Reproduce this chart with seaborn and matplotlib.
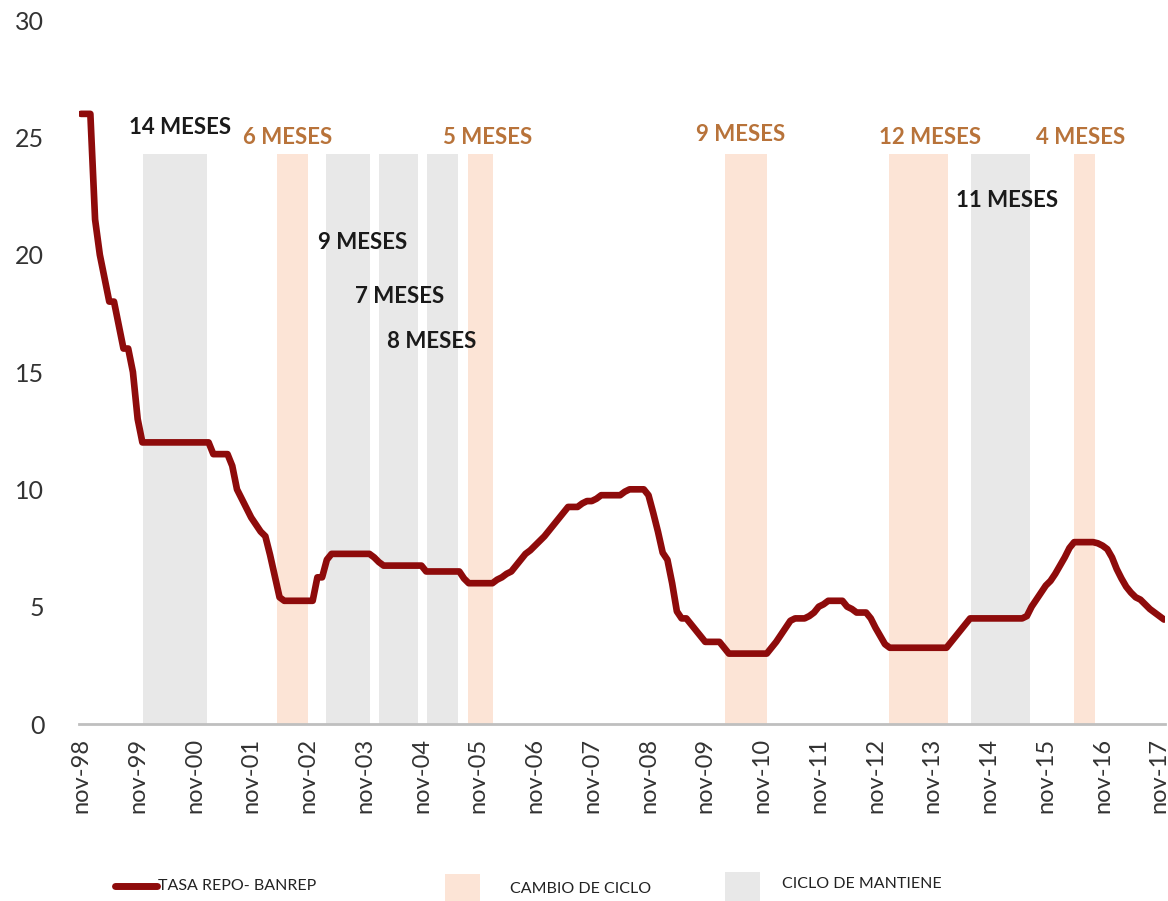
import matplotlib.pyplot as plt
import matplotlib.lines as mlines
import matplotlib.patches as mpatches
import numpy as np
import pandas as pd
import seaborn as sns

sns.set_theme(style="white")
plt.rcParams["font.family"] = ["Lato", "DejaVu Sans"]

# Tasa repo Banrep, mensual desde nov-98
tasa_1998 = [26, 26]
tasa_1999 = [26, 21.5, 20, 19, 18, 18, 17, 16, 16, 15, 13, 12]
tasa_2000 = [12, 12, 12, 12, 12, 12, 12, 12, 12, 12, 12, 12]
tasa_2001 = [12, 12, 11.5, 11.5, 11.5, 11.5, 11.0, 10.0, 9.6, 9.2, 8.8, 8.5]
tasa_2002 = [8.2, 8.0, 7.2, 6.3, 5.4, 5.25, 5.25, 5.25, 5.25, 5.25, 5.25, 5.25]
tasa_2003 = [6.25, 6.25, 7.0, 7.25, 7.25, 7.25, 7.25, 7.25, 7.25, 7.25, 7.25, 7.25]
tasa_2004 = [7.1, 6.9, 6.75, 6.75, 6.75, 6.75, 6.75, 6.75, 6.75, 6.75, 6.75, 6.5]
tasa_2005 = [6.5, 6.5, 6.5, 6.5, 6.5, 6.5, 6.5, 6.2, 6.0, 6.0, 6.0, 6.0]
tasa_2006 = [6.0, 6.0, 6.15, 6.25, 6.4, 6.5, 6.75, 7.0, 7.25, 7.4, 7.6, 7.8]
tasa_2007 = [8.0, 8.25, 8.5, 8.75, 9.0, 9.25, 9.25, 9.25, 9.4, 9.5, 9.5, 9.6]
tasa_2008 = [9.75, 9.75, 9.75, 9.75, 9.75, 9.9, 10, 10, 10, 10, 9.75, 9.0]
tasa_2009 = [8.2, 7.3, 7.0, 6.0, 4.8, 4.5, 4.5, 4.25, 4.0, 3.75, 3.5, 3.5]
tasa_2010 = [3.5, 3.5, 3.25, 3.0, 3.0, 3.0, 3.0, 3.0, 3.0, 3.0, 3.0, 3.0]
tasa_2011 = [3.25, 3.5, 3.8, 4.1, 4.4, 4.5, 4.5, 4.5, 4.6, 4.75, 5.0, 5.1]
tasa_2012 = [5.25, 5.25, 5.25, 5.25, 5.0, 4.9, 4.75, 4.75, 4.75, 4.5, 4.1, 3.75]
tasa_2013 = [3.4, 3.25, 3.25, 3.25, 3.25, 3.25, 3.25, 3.25, 3.25, 3.25, 3.25, 3.25]
tasa_2014 = [3.25, 3.25, 3.5, 3.75, 4.0, 4.25, 4.5, 4.5, 4.5, 4.5, 4.5, 4.5]
tasa_2015 = [4.5, 4.5, 4.5, 4.5, 4.5, 4.5, 4.6, 5.0, 5.3, 5.6, 5.9, 6.1]
tasa_2016 = [6.4, 6.75, 7.1, 7.5, 7.75, 7.75, 7.75, 7.75, 7.75, 7.7, 7.6, 7.45]
tasa_2017 = [7.1, 6.6, 6.2, 5.85, 5.6, 5.4, 5.3, 5.1, 4.9, 4.75, 4.6, 4.45]

etiquetas_x = ["nov-98", "nov-99", "nov-00", "nov-01", "nov-02", "nov-03", "nov-04",
               "nov-05", "nov-06", "nov-07", "nov-08", "nov-09", "nov-10", "nov-11",
               "nov-12", "nov-13", "nov-14", "nov-15", "nov-16", "nov-17"]

# Periodos sombreados (en meses desde nov-98)
banda_inicio = [13.1, 41.4, 51.8, 63.0, 73.2, 81.8, 136.2, 170.8, 188.2, 209.9]
banda_fin = [26.6, 48.0, 61.1, 71.2, 79.7, 87.1, 145.0, 183.3, 200.6, 214.4]
banda_tipo = ["mantiene", "cambio", "mantiene", "mantiene", "mantiene", "cambio",
              "cambio", "cambio", "mantiene", "cambio"]

# Etiquetas de duracion
textos = ["14 MESES", "6 MESES", "5 MESES", "9 MESES", "7 MESES", "8 MESES",
          "9 MESES", "12 MESES", "4 MESES", "11 MESES"]
textos_tipo = ["mantiene", "cambio", "cambio", "mantiene", "mantiene", "mantiene",
               "cambio", "cambio", "cambio", "mantiene"]
textos_x = [20.9, 43.8, 86.0, 59.6, 67.4, 74.2, 139.5, 179.5, 211.4, 195.8]
textos_y = [25.4, 25.0, 25.0, 20.5, 18.2, 16.3, 25.1, 25.0, 25.0, 22.3]

tasa = (tasa_1998 + tasa_1999 + tasa_2000 + tasa_2001 + tasa_2002 + tasa_2003
        + tasa_2004 + tasa_2005 + tasa_2006 + tasa_2007 + tasa_2008 + tasa_2009
        + tasa_2010 + tasa_2011 + tasa_2012 + tasa_2013 + tasa_2014 + tasa_2015
        + tasa_2016 + tasa_2017)
df = pd.DataFrame({"mes": np.arange(len(tasa)), "tasa": tasa})

COLOR_LINEA = "#8E0B0B"
COLOR_CAMBIO = "#FCE4D6"
COLOR_MANTIENE = "#E8E8E8"
COLOR_TXT_CAMBIO = "#B8733A"
COLOR_TXT_MANTIENE = "#1A1A1A"
colores_banda = {"cambio": COLOR_CAMBIO, "mantiene": COLOR_MANTIENE}
colores_txt = {"cambio": COLOR_TXT_CAMBIO, "mantiene": COLOR_TXT_MANTIENE}

fig = plt.figure(figsize=(11.68, 9.01), dpi=100)
ax = fig.add_axes([79 / 1168, 177 / 901, 1086 / 1168, 704 / 901])

for x0, x1, tipo in zip(banda_inicio, banda_fin, banda_tipo):
    ax.axvspan(x0, x1, ymin=0, ymax=24.3 / 30, color=colores_banda[tipo], lw=0, zorder=0)

sns.lineplot(data=df, x="mes", y="tasa", color=COLOR_LINEA, linewidth=4.8, ax=ax,
             zorder=3)

for t, tipo, x, y in zip(textos, textos_tipo, textos_x, textos_y):
    ax.text(x, y, t, ha="center", va="center", fontsize=16, fontweight="bold",
            color=colores_txt[tipo], zorder=4)

ax.set_xlim(-0.4, 229.2)
ax.set_ylim(0, 30)
ax.set_yticks([0, 5, 10, 15, 20, 25, 30])
ax.set_xticks(np.arange(0, len(tasa), 12))
ax.set_xticklabels(etiquetas_x, rotation=90)
ax.tick_params(axis="y", length=0, pad=25, labelsize=18, labelcolor="#333333")
ax.tick_params(axis="x", length=0, pad=10, labelsize=17, labelcolor="#333333")
ax.set_xlabel("")
ax.set_ylabel("")
for s in ["top", "right", "left"]:
    ax.spines[s].set_visible(False)
ax.spines["bottom"].set_color("#BFBFBF")
ax.spines["bottom"].set_linewidth(2)

# Leyenda inferior
ley_font = dict(fontsize=11.5, color="#222222", va="center", ha="left")
fig.add_artist(mlines.Line2D([115 / 1168, 157 / 1168], [1 - 886 / 901] * 2,
                             color=COLOR_LINEA, lw=5))
fig.text(158 / 1168, 1 - 886 / 901, "TASA REPO- BANREP", **ley_font)
fig.add_artist(mpatches.Rectangle((445 / 1168, 1 - 901 / 901), 35 / 1168, 27 / 901,
                                  color=COLOR_CAMBIO, lw=0))
fig.text(510 / 1168, 1 - 889 / 901, "CAMBIO DE CICLO", **ley_font)
fig.add_artist(mpatches.Rectangle((725 / 1168, 1 - 901 / 901), 35 / 1168, 29 / 901,
                                  color=COLOR_MANTIENE, lw=0))
fig.text(782 / 1168, 1 - 884 / 901, "CICLO DE MANTIENE", **ley_font)

fig.savefig("out.png", dpi=100)
